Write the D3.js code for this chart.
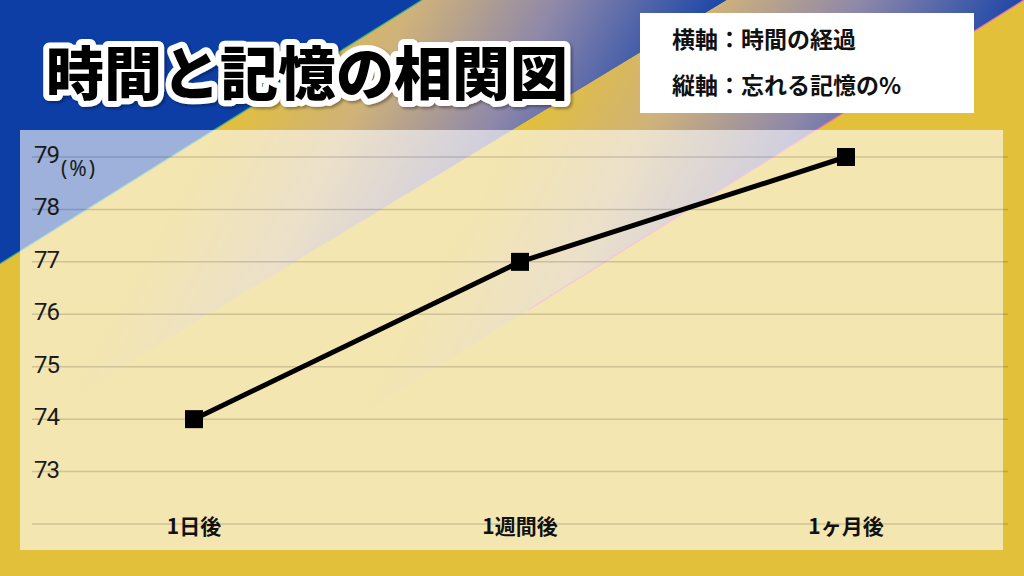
<!DOCTYPE html>
<html><head><meta charset="utf-8">
<script src="https://cdn.jsdelivr.net/npm/d3@7/dist/d3.min.js"></script>
<style>html,body{margin:0;padding:0;background:#e3c03a;}svg{display:block;}</style>
</head><body>
<script>
const categories = ["1日後", "1週間後", "1ヶ月後"];
const values = [74, 77, 79];
const yTicks = [73, 74, 75, 76, 77, 78, 79];
const yGrid = [72, 73, 74, 75, 76, 77, 78, 79];
const titleText = "時間と記憶の相関図";
const legendLines = ["横軸：時間の経過", "縦軸：忘れる記憶の%"];
const unitLabel = "(%)";

const W = 1024, H = 576;
const svg = d3.select("body").append("svg").attr("width", W).attr("height", H);
const defs = svg.append("defs");

const BLUE = "#0c3ea6", YEL = "#e3c03a";
function band(id, x1, y1, x2, y2) {
  const g = defs.append("linearGradient").attr("id", id)
    .attr("gradientUnits", "userSpaceOnUse")
    .attr("x1", x1).attr("y1", y1).attr("x2", x2).attr("y2", y2);
  [[0, YEL], [0.3, "#cfb27a"], [0.62, "#8e88aa"], [1, "#1a45a8"]].forEach(s =>
    g.append("stop").attr("offset", s[0]).attr("stop-color", s[1]));
}
band("g1", 214, 130, 556, 316);
band("g2", 515, 130, 857, 316);

const sh = defs.append("filter").attr("id", "sh").attr("x", "-10%").attr("y", "-30%").attr("width", "120%").attr("height", "160%");
sh.append("feDropShadow").attr("dx", 2).attr("dy", 2).attr("stdDeviation", 1.5)
  .attr("flood-color", "#000").attr("flood-opacity", 0.35);

// background
svg.append("rect").attr("width", W).attr("height", H).attr("fill", YEL);
const lineA = y => 422 - 1.6 * y, lineB = y => 727 - 1.65 * y, lineC = y => 1024 - 1.6 * y;
svg.append("polygon").attr("points", `0,0 ${lineA(0)},0 0,${422/1.6}`).attr("fill", BLUE);
svg.append("polygon").attr("points", `${lineA(0)},0 ${lineB(0)},0 ${lineB(600)},600 ${lineA(600)},600`).attr("fill", "url(#g1)");
svg.append("polygon").attr("points", `${lineB(0)},0 ${lineC(0)},0 ${lineC(600)},600 ${lineB(600)},600`).attr("fill", "url(#g2)");
svg.append("line").attr("x1", lineA(0)).attr("y1", 0).attr("x2", 0).attr("y2", 422/1.6)
  .attr("stroke", "#3fae7c").attr("stroke-width", 1.2);
svg.append("line").attr("x1", lineC(-3)).attr("y1", -3).attr("x2", lineC(310)).attr("y2", 310)
  .attr("stroke", "#e672a6").attr("stroke-width", 1.4);

// panel
svg.append("rect").attr("x", 20).attr("y", 130).attr("width", 983).attr("height", 420)
  .attr("fill", "#fff").attr("fill-opacity", 0.6);

const y = d3.scaleLinear().domain([72, 79]).range([524, 157]);
const x = d3.scalePoint().domain(categories).range([194, 846]);

// grid
svg.append("g").selectAll("line").data(yGrid).join("line")
  .attr("x1", 32).attr("x2", 1008)
  .attr("y1", d => y(d)).attr("y2", d => y(d))
  .attr("stroke", "#000").attr("stroke-opacity", 0.15).attr("stroke-width", 1.5);

// y labels
svg.append("g").selectAll("text").data(yTicks).join("text")
  .attr("x", 34).attr("y", d => y(d) - 2)
  .attr("dominant-baseline", "central")
  .attr("font-family", "Roboto, 'Noto Sans', sans-serif").attr("font-size", 24)
  .attr("letter-spacing", -1).attr("fill", "#1a1a1a")
  .text(d => d);
svg.append("text").attr("x", 61).attr("y", 168).attr("dominant-baseline", "central")
  .attr("font-family", "'Noto Sans', sans-serif").attr("font-size", 21)
  .attr("letter-spacing", 2).attr("fill", "#1a1a1a").text(unitLabel);

// x labels
svg.append("g").selectAll("text").data(categories).join("text")
  .attr("x", d => x(d)).attr("y", 525).attr("text-anchor", "middle")
  .attr("dominant-baseline", "central")
  .attr("font-family", "'Noto Sans CJK JP', sans-serif").attr("font-weight", 700)
  .attr("font-size", 21).attr("fill", "#111").text(d => d);

// line + markers
const data = categories.map((c, i) => ({c, v: values[i]}));
svg.append("path").datum(data)
  .attr("d", d3.line().x(d => x(d.c)).y(d => y(d.v)))
  .attr("fill", "none").attr("stroke", "#000").attr("stroke-width", 5);
svg.append("g").selectAll("rect").data(data).join("rect")
  .attr("x", d => x(d.c) - 9).attr("y", d => y(d.v) - 9)
  .attr("width", 18).attr("height", 18).attr("fill", "#000");

// title
svg.append("text").attr("x", 46).attr("y", 70).attr("dominant-baseline", "central")
  .attr("font-family", "'Noto Sans CJK JP', sans-serif").attr("font-weight", 900)
  .attr("font-size", 58).attr("fill", "#000")
  .attr("stroke", "#fff").attr("stroke-width", 12).attr("stroke-linejoin", "round")
  .attr("paint-order", "stroke").attr("filter", "url(#sh)").text(titleText);

// legend box
svg.append("rect").attr("x", 640).attr("y", 13).attr("width", 334).attr("height", 100).attr("fill", "#fff");
svg.append("g").selectAll("text").data(legendLines).join("text")
  .attr("x", 672).attr("y", (d, i) => 38 + i * 46).attr("dominant-baseline", "central")
  .attr("font-family", "'Noto Sans CJK JP', sans-serif").attr("font-weight", 700)
  .attr("font-size", 23).attr("fill", "#111").text(d => d);
</script>
</body></html>
